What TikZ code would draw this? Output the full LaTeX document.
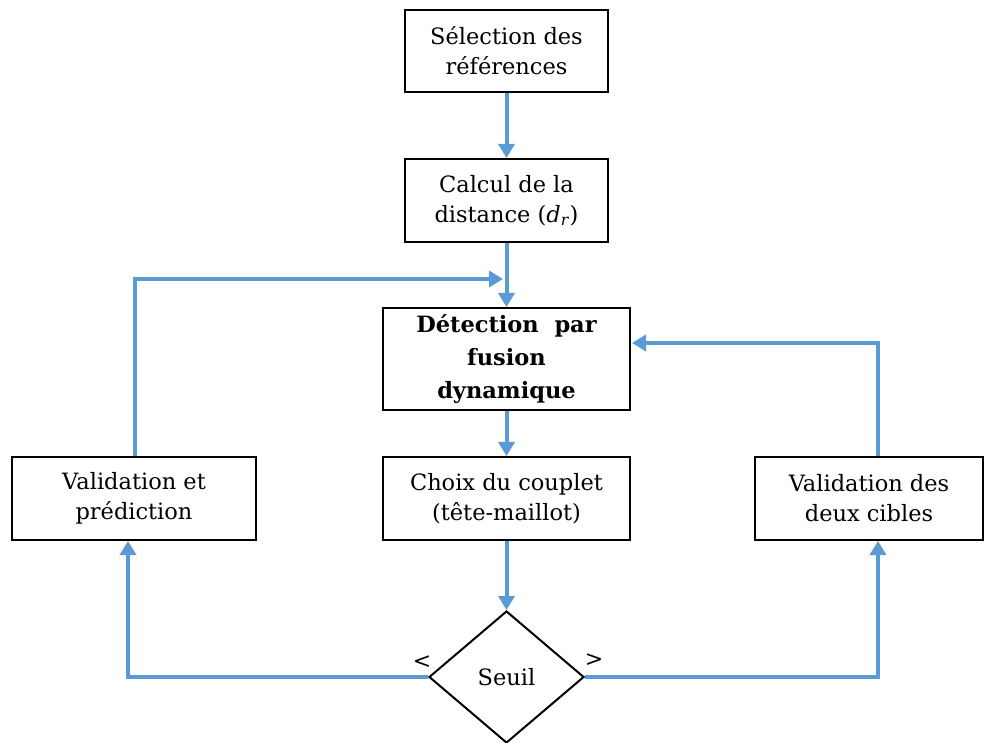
\documentclass[tikz,border=0pt]{standalone}
\usepackage{fontspec}
\setmainfont{DejaVu Serif}
\usetikzlibrary{shapes.geometric,arrows.meta}
\definecolor{lineblue}{HTML}{5B9BD5}
\begin{document}
\begin{tikzpicture}[x=1pt,y=-1pt,
  box/.style={draw=black,line width=2pt,rectangle,align=center,inner sep=2pt,font=\fontsize{22.5}{30}\selectfont},
  flow/.style={draw=lineblue,line width=4pt,-{Triangle[width=16pt,length=14pt]}},
  sign/.style={font=\fontsize{22}{24}\selectfont}]
\useasboundingbox (0,0) rectangle (989,743);
\node[box,minimum width=203pt,minimum height=82pt] (b1) at (506.5,51) {Sélection des\\références};
\node[box,minimum width=203pt,minimum height=83pt] (b2) at (506.5,200.5) {Calcul de la\\distance (\textit{d}\textsubscript{\textit{r}})};
\node[box,minimum width=247pt,minimum height=102pt,font=\fontsize{22.5}{33}\selectfont\bfseries] (b3) at (506.5,359) {Détection\ \ par\\fusion\\dynamique};
\node[box,minimum width=247pt,minimum height=83pt] (b4) at (506.5,498.5) {Choix du couplet\\(tête-maillot)};
\node[box,minimum width=244pt,minimum height=83pt] (lb) at (134,498.5) {Validation et\\prédiction};
\node[box,minimum width=228pt,minimum height=83pt] (rb) at (869,498.5) {Validation des\\deux cibles};
\node[draw=black,line width=2pt,diamond,aspect=1.17,minimum width=155pt,minimum height=132pt,inner sep=0pt,font=\fontsize{22.5}{26}\selectfont] (d) at (506.5,677) {Seuil};
\coordinate (j) at (503,279);
\coordinate (ltop) at (135,279);
\coordinate (rtop) at (878,343);
\coordinate (rin) at (632,343);
\draw[flow] (b1.south) -- (b2.north);
\draw[flow] (b2.south) -- (b3.north);
\draw[flow] (b3.south) -- (b4.north);
\draw[flow] (b4.south) -- (d.north);
\draw[flow] ([xshift=1pt]lb.north) -- (ltop) -- (j);
\draw[flow] ([xshift=9pt]rb.north) -- (rtop) -- (rin);
\draw[flow] (d.west) -| ([xshift=-6pt]lb.south);
\draw[flow] (d.east) -| ([xshift=9pt]rb.south);
\node[sign] (lt) at (422,662) {<};
\node[sign] (gt) at (594,660) {>};
\end{tikzpicture}
\end{document}
